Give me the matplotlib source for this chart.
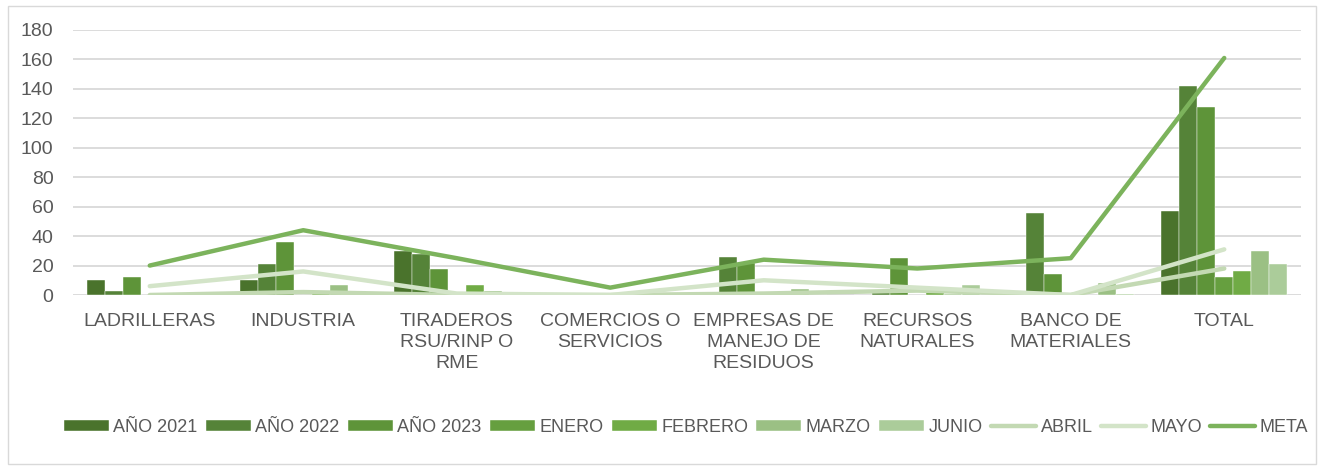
import numpy as np
import matplotlib.pyplot as plt
from matplotlib.patches import Rectangle

plt.rcParams['font.family'] = ['Liberation Sans', 'DejaVu Sans']

categorias = ['LADRILLERAS', 'INDUSTRIA', 'TIRADEROS\nRSU/RINP O\nRME',
              'COMERCIOS O\nSERVICIOS', 'EMPRESAS DE\nMANEJO DE\nRESIDUOS',
              'RECURSOS\nNATURALES', 'BANCO DE\nMATERIALES', 'TOTAL']

anio_2021 = [10, 10, 30, 0, 0, 0, 0, 57]
anio_2022 = [3, 21, 28, 0, 26, 2, 56, 142]
anio_2023 = [12, 36, 18, 0, 22, 25, 14, 128]
enero = [0, 0, 0, 0, 1, 0, 0, 12]
febrero = [0, 3, 7, 0, 0, 2, 0, 16]
marzo = [0, 7, 3, 0, 4, 1, 8, 30]
junio = [2, 3, 0, 0, 0, 7, 1, 21]
abril = [0, 2, 0, 0, 1, 3, 0, 18]
mayo = [6, 16, 1, 0, 10, 5, 0, 31]
meta = [20, 44, 25, 5, 24, 18, 25, 161]

barras = [('AÑO 2021', anio_2021, '#4a732c'),
          ('AÑO 2022', anio_2022, '#558338'),
          ('AÑO 2023', anio_2023, '#5e9439'),
          ('ENERO', enero, '#669f3f'),
          ('FEBRERO', febrero, '#70ab45'),
          ('MARZO', marzo, '#9bc084'),
          ('JUNIO', junio, '#abcc9a')]
lineas = [('ABRIL', abril, '#c3d9b3'),
          ('MAYO', mayo, '#d3e4c8'),
          ('META', meta, '#7cb35c')]

fig = plt.figure(figsize=(13.22, 4.67), dpi=100)
ax = fig.add_axes([73/1322, 1-295/467, 1228/1322, 265/467])

x = np.arange(len(categorias))
w = 18/153.5
hs, ls = [], []
for i, (nombre, vals, color) in enumerate(barras):
    b = ax.bar(x + (i-3)*w, vals, width=w, color=color, label=nombre,
               edgecolor='#ffffff', linewidth=0.3, zorder=2)
    hs.append(b); ls.append(nombre)
for nombre, vals, color in lineas:
    ln, = ax.plot(x, vals, color=color, lw=3.2, label=nombre,
                  solid_capstyle='round', solid_joinstyle='round', zorder=3)
    hs.append(ln); ls.append(nombre)

ax.set_xlim(-0.5, len(categorias)-0.5)
ax.set_ylim(0, 180)
ax.set_yticks(range(0, 181, 20))
ax.yaxis.grid(True, color='#d9d9d9', lw=1.3, zorder=0)
ax.set_axisbelow(True)
for s in ax.spines.values():
    s.set_visible(False)
ax.set_xticks(x)
ax.set_xticklabels(categorias, fontsize=14, color='#595959', linespacing=1.3)
ax.tick_params(axis='x', length=0, pad=13)
ax.tick_params(axis='y', length=0, pad=14, labelsize=14, labelcolor='#595959')

leg = fig.legend(hs, ls, loc='center', bbox_to_anchor=(686/1322, 1-427/467), ncol=10,
                 frameon=False, fontsize=13, handlelength=2.5, handleheight=0.55,
                 handletextpad=0.25, columnspacing=0.45)
for t in leg.get_texts():
    t.set_color('#595959')

fig.patches.append(Rectangle((8/1322, 3/467), 1308/1322, 458/467, transform=fig.transFigure,
                             fill=False, edgecolor='#d9d9d9', lw=1))

fig.savefig('out.png', dpi=100)
